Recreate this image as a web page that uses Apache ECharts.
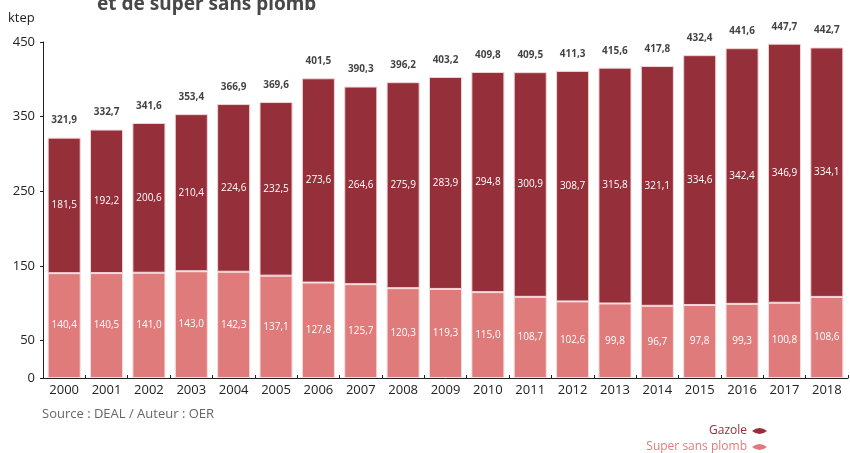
<!DOCTYPE html>
<html>
<head>
<meta charset="utf-8">
<script src="https://cdn.jsdelivr.net/npm/echarts@6/dist/echarts.min.js"></script>
<style>
  html, body { margin: 0; padding: 0; background: #fff; }
  #chart { width: 850px; height: 453px; }
</style>
</head>
<body>
<div id="chart"></div>
<script>
// annees
var years = ["2000", "2001", "2002", "2003", "2004", "2005", "2006", "2007", "2008", "2009",
    "2010", "2011", "2012", "2013", "2014", "2015", "2016", "2017", "2018"];
// super sans plomb (ktep)
var superSansPlomb = [140.4, 140.5, 141.0, 143.0, 142.3, 137.1, 127.8, 125.7, 120.3, 119.3,
    115.0, 108.7, 102.6, 99.8, 96.7, 97.8, 99.3, 100.8, 108.6];
// gazole (ktep)
var gazole = [181.5, 192.2, 200.6, 210.4, 224.6, 232.5, 273.6, 264.6, 275.9, 283.9,
    294.8, 300.9, 308.7, 315.8, 321.1, 334.6, 342.4, 346.9, 334.1];
// totaux affiches au-dessus des barres
var totals = [321.9, 332.7, 341.6, 353.4, 366.9, 369.6, 401.5, 390.3, 396.2, 403.2,
    409.8, 409.5, 411.3, 415.6, 417.8, 432.4, 441.6, 447.7, 442.7];
// graduations affichees
var yTicks = [0, 50, 150, 250, 350, 450];

function fr(v) {
    return v.toFixed(1).replace(".", ",");
}

var font = "Open Sans";
var leafIcon = "path://M0,5 Q10,-3 20,5 Q10,13 0,5 Z";

// une legende par serie, empilees a droite
function makeLegend(name, color, top) {
    return {
        data: [{ name: name, textStyle: { color: color } }],
        align: "right",
        right: 83,
        top: top,
        padding: 0,
        itemWidth: 15,
        itemHeight: 10,
        icon: leafIcon,
        itemStyle: { borderWidth: 0 },
        textStyle: { fontFamily: font, fontSize: 12 }
    };
}

var myChart = echarts.init(document.getElementById("chart"));

var option = {
    animation: false,
    textStyle: { fontFamily: font },
    title: [{
        text: "et de super sans plomb",
        left: 97,
        top: -5,
        padding: 0,
        textStyle: { fontFamily: "Noto Sans", fontWeight: "bold", fontSize: 19, color: "#484848" }
    }, {
        text: "ktep",
        left: 8,
        top: 12,
        padding: 0,
        textStyle: { fontFamily: font, fontWeight: "normal", fontSize: 13, color: "#222" }
    }, {
        text: "Source : DEAL / Auteur : OER",
        left: 42,
        top: 408,
        padding: 0,
        textStyle: { fontFamily: font, fontWeight: "normal", fontSize: 13, color: "#666" }
    }],
    legend: [
        makeLegend("Gazole", "#952f3a", 425),
        makeLegend("Super sans plomb", "#df7b7b", 441)
    ],
    grid: { left: 43, right: 2, top: 42, bottom: 75 },
    xAxis: {
        type: "category",
        data: years,
        axisLine: { lineStyle: { color: "#222", width: 1 } },
        axisTick: { show: true, inside: true, length: 3, lineStyle: { color: "#222" } },
        axisLabel: { color: "#222", fontSize: 13, margin: 6, fontFamily: font }
    },
    yAxis: {
        type: "value",
        min: 0,
        max: 450,
        splitLine: { show: false },
        axisLine: { show: true, lineStyle: { color: "#222", width: 1 } },
        axisTick: { show: true, length: 3, lineStyle: { color: "#222" }, customValues: yTicks },
        axisLabel: {
            color: "#222", fontSize: 13, margin: 8, fontFamily: font,
            customValues: yTicks
        }
    },
    series: [{
        name: "Super sans plomb",
        type: "bar",
        stack: "total",
        barWidth: "78%",
        data: superSansPlomb,
        itemStyle: { color: "#df7b7b", borderColor: "#f6dede", borderWidth: 1 },
        label: {
            show: true, position: "inside", color: "#fff", fontSize: 10, fontFamily: font,
            formatter: function (p) { return fr(p.value); }
        }
    }, {
        name: "Gazole",
        type: "bar",
        stack: "total",
        data: gazole,
        itemStyle: { color: "#952f3a", borderColor: "#f0d6d6", borderWidth: 1 },
        label: {
            show: true, position: "inside", color: "#fff", fontSize: 10, fontFamily: font,
            formatter: function (p) { return fr(p.value); }
        }
    }, {
        name: "Total",
        type: "scatter",
        data: totals,
        symbolSize: 2,
        itemStyle: { color: "rgba(0,0,0,0)" },
        silent: true,
        label: {
            show: true, position: "top", distance: 11, color: "#111", fontSize: 10,
            fontWeight: "bold", fontFamily: font,
            formatter: function (p) { return fr(p.value); }
        }
    }]
};

myChart.setOption(option);
</script>
</body>
</html>
